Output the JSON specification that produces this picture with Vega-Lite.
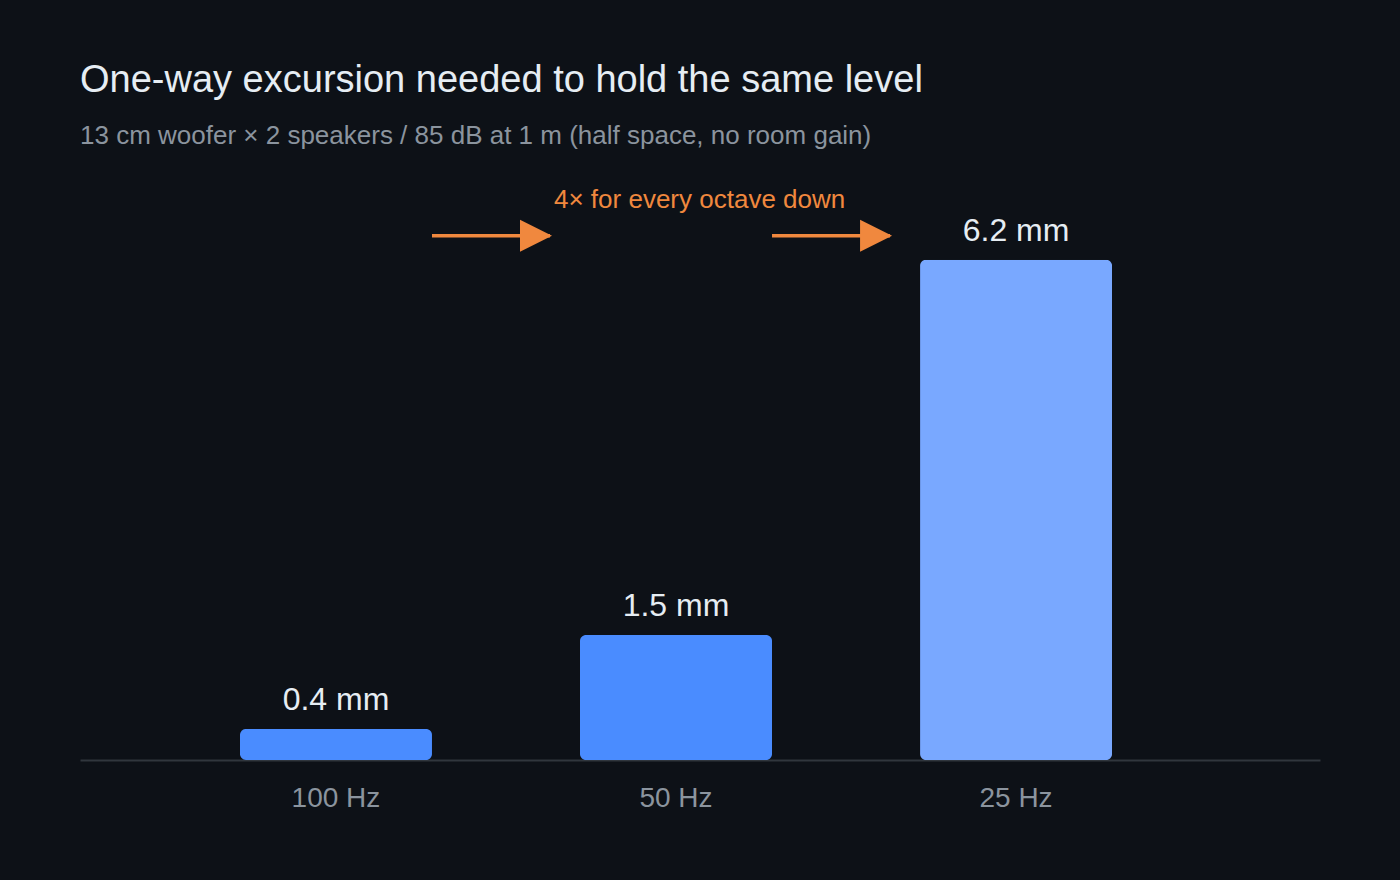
{
  "$schema": "https://vega.github.io/schema/vega-lite/v6.json",
  "description": "One-way excursion needed to hold the same level",
  "background": "#0d1117",
  "autosize": "none",
  "width": 1240,
  "height": 605,
  "padding": {"left": 80, "top": 155, "right": 80, "bottom": 120},
  "title": {
    "text": "One-way excursion needed to hold the same level",
    "subtitle": "13 cm woofer × 2 speakers / 85 dB at 1 m (half space, no room gain)",
    "anchor": "start",
    "font": "Liberation Sans",
    "fontSize": 38,
    "fontWeight": "normal",
    "color": "#e6edf3",
    "subtitleFont": "Liberation Sans",
    "subtitleFontSize": 26,
    "subtitleColor": "#8b949e",
    "subtitlePadding": 23,
    "offset": 6
  },
  "datasets": {
    "bars": [
      {"freq": "100 Hz", "mm": 0.385, "label": "0.4 mm", "tone": "base"},
      {"freq": "50 Hz", "mm": 1.55, "label": "1.5 mm", "tone": "base"},
      {"freq": "25 Hz", "mm": 6.2, "label": "6.2 mm", "tone": "light"}
    ],
    "arrows": [
      {"from": "100 Hz", "to": "50 Hz", "y": 6.5},
      {"from": "50 Hz", "to": "25 Hz", "y": 6.5}
    ],
    "note": [
      {"at": "50 Hz", "y": 6.94, "text": "4× for every octave down"}
    ]
  },
  "encoding": {
    "x": {
      "field": "freq",
      "type": "nominal",
      "sort": ["100 Hz", "50 Hz", "25 Hz"],
      "title": null,
      "scale": {
        "domain": ["100 Hz", "50 Hz", "25 Hz"],
        "paddingInner": 0.4353,
        "paddingOuter": 0.541,
        "align": 0.4348
      },
      "axis": {
        "labelAngle": 0,
        "labelFont": "Liberation Sans",
        "labelFontSize": 28,
        "labelColor": "#8b949e",
        "labelPadding": 24,
        "ticks": false,
        "domainColor": "#30363d",
        "domainWidth": 2,
        "grid": false
      }
    }
  },
  "layer": [
    {
      "data": {"name": "bars"},
      "mark": {"type": "bar", "cornerRadius": 6},
      "encoding": {
        "y": {
          "field": "mm",
          "type": "quantitative",
          "scale": {"domain": [0, 7.5], "nice": false},
          "axis": null
        },
        "color": {
          "field": "tone",
          "type": "nominal",
          "scale": {"domain": ["base", "light"], "range": ["#4a8cff", "#79a8ff"]},
          "legend": null
        }
      }
    },
    {
      "data": {"name": "bars"},
      "mark": {
        "type": "text",
        "baseline": "alphabetic",
        "dy": -19,
        "font": "Liberation Sans",
        "fontSize": 32,
        "color": "#e6edf3"
      },
      "encoding": {
        "y": {"field": "mm", "type": "quantitative"},
        "text": {"field": "label"}
      }
    },
    {
      "data": {"name": "arrows"},
      "mark": {"type": "rule", "color": "#f0883e", "strokeWidth": 3.5, "x2Offset": -30},
      "encoding": {
        "x": {"field": "from", "type": "nominal", "bandPosition": 1},
        "x2": {"field": "to", "bandPosition": 0},
        "y": {"field": "y", "type": "quantitative"}
      }
    },
    {
      "data": {"name": "arrows"},
      "mark": {
        "type": "point",
        "shape": "M-1,-1L1,0L-1,1Z",
        "size": 1024,
        "filled": true,
        "opacity": 1,
        "color": "#f0883e",
        "xOffset": -44
      },
      "encoding": {
        "x": {"field": "to", "type": "nominal", "bandPosition": 0},
        "y": {"field": "y", "type": "quantitative"}
      }
    },
    {
      "data": {"name": "note"},
      "mark": {
        "type": "text",
        "align": "left",
        "baseline": "middle",
        "dx": -26,
        "font": "Liberation Sans",
        "fontSize": 26,
        "color": "#f0883e"
      },
      "encoding": {
        "x": {"field": "at", "type": "nominal", "bandPosition": 0},
        "y": {"field": "y", "type": "quantitative"},
        "text": {"field": "text"}
      }
    }
  ],
  "config": {
    "view": {"stroke": null},
    "font": "Liberation Sans"
  }
}
